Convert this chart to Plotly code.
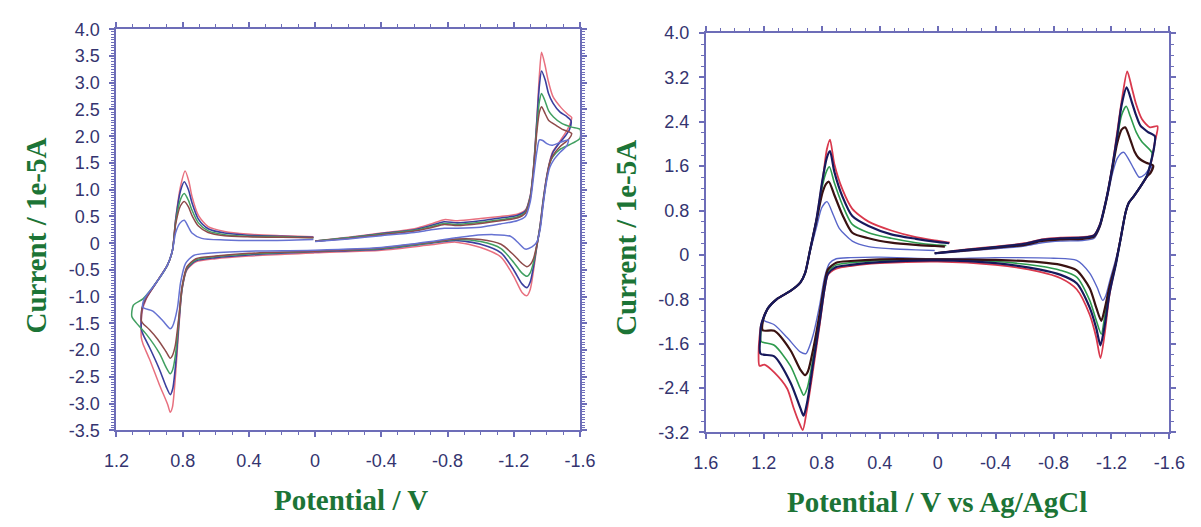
import plotly.graph_objects as go

# ---------------------------------------------------------------------------
# Cyclic voltammograms, (potential V, current 1e-5 A) read along each loop
# ---------------------------------------------------------------------------

left_red = [
    (0.00, 0.04), (-0.20, 0.11), (-0.40, 0.19), (-0.60, 0.27), (-0.70, 0.36), (-0.78, 0.44),
    (-0.86, 0.42), (-1.00, 0.46), (-1.12, 0.50), (-1.22, 0.54), (-1.27, 0.62), (-1.30, 0.90),
    (-1.32, 1.45), (-1.34, 2.35), (-1.355, 3.15), (-1.368, 3.57), (-1.388, 3.34), (-1.408, 3.04),
    (-1.437, 2.74), (-1.487, 2.53), (-1.526, 2.41), (-1.55, 2.35),
    (-1.536, 2.20), (-1.516, 2.08), (-1.477, 1.90), (-1.437, 1.72), (-1.418, 1.54), (-1.398, 1.24),
    (-1.378, 0.82), (-1.359, 0.34), (-1.339, -0.08), (-1.32, -0.50), (-1.30, -0.86), (-1.28, -0.98),
    (-1.25, -0.92), (-1.20, -0.62), (-1.123, -0.26), (-1.00, -0.08), (-0.85, 0.02), (-0.70, -0.03),
    (-0.40, -0.13), (0.00, -0.18), (0.40, -0.24), (0.60, -0.29), (0.72, -0.35), (0.774, -0.50),
    (0.803, -0.86), (0.823, -1.58), (0.842, -2.42), (0.862, -3.07), (0.875, -3.16), (0.89, -3.02),
    (0.94, -2.65), (1.00, -2.17), (1.04, -1.88), (1.05, -1.76),
    (1.045, -1.28), (1.02, -1.04), (0.96, -0.74), (0.892, -0.41), (0.862, -0.14), (0.842, 0.46),
    (0.813, 1.06), (0.785, 1.35), (0.762, 1.15), (0.744, 0.88), (0.705, 0.52), (0.646, 0.31),
    (0.547, 0.22), (0.41, 0.17), (0.20, 0.14), (0.01, 0.12),
]

left_navy = [
    (0.00, 0.04), (-0.20, 0.10), (-0.40, 0.18), (-0.60, 0.25), (-0.70, 0.33), (-0.78, 0.40),
    (-0.86, 0.38), (-1.00, 0.42), (-1.12, 0.47), (-1.22, 0.52), (-1.27, 0.60), (-1.30, 0.88),
    (-1.32, 1.42), (-1.34, 2.30), (-1.355, 2.95), (-1.368, 3.22), (-1.39, 3.05), (-1.41, 2.80),
    (-1.437, 2.62), (-1.48, 2.45), (-1.516, 2.38), (-1.546, 2.29),
    (-1.536, 2.12), (-1.51, 2.00), (-1.47, 1.85), (-1.437, 1.70), (-1.418, 1.52), (-1.398, 1.22),
    (-1.378, 0.80), (-1.359, 0.32), (-1.339, -0.06), (-1.32, -0.42), (-1.30, -0.72), (-1.28, -0.83),
    (-1.25, -0.76), (-1.20, -0.50), (-1.123, -0.18), (-1.00, -0.02), (-0.85, 0.05), (-0.70, 0.00),
    (-0.40, -0.11), (0.00, -0.16), (0.40, -0.22), (0.60, -0.27), (0.72, -0.33), (0.774, -0.48),
    (0.803, -0.84), (0.823, -1.50), (0.842, -2.25), (0.860, -2.72), (0.875, -2.83), (0.90, -2.68),
    (0.94, -2.36), (1.00, -1.95), (1.04, -1.70), (1.05, -1.60),
    (1.045, -1.22), (1.02, -1.02), (0.96, -0.74), (0.892, -0.41), (0.862, -0.14), (0.842, 0.44),
    (0.813, 0.98), (0.79, 1.15), (0.765, 1.00), (0.744, 0.76), (0.705, 0.45), (0.646, 0.27),
    (0.547, 0.19), (0.41, 0.15), (0.20, 0.13), (0.01, 0.11),
]

left_green = [
    (0.00, 0.04), (-0.20, 0.10), (-0.40, 0.17), (-0.60, 0.24), (-0.70, 0.31), (-0.78, 0.37),
    (-0.86, 0.35), (-1.00, 0.39), (-1.12, 0.44), (-1.22, 0.49), (-1.27, 0.58), (-1.30, 0.86),
    (-1.32, 1.40), (-1.34, 2.20), (-1.355, 2.65), (-1.368, 2.80), (-1.39, 2.65), (-1.41, 2.48),
    (-1.44, 2.36), (-1.49, 2.24), (-1.55, 2.17), (-1.60, 2.13),
    (-1.60, 1.96), (-1.536, 1.84), (-1.477, 1.75), (-1.437, 1.62), (-1.418, 1.50), (-1.398, 1.20),
    (-1.378, 0.78), (-1.359, 0.30), (-1.339, -0.05), (-1.32, -0.35), (-1.30, -0.55), (-1.28, -0.62),
    (-1.25, -0.56), (-1.20, -0.36), (-1.123, -0.10), (-1.00, 0.03), (-0.85, 0.07), (-0.70, 0.01),
    (-0.40, -0.10), (0.00, -0.15), (0.40, -0.20), (0.60, -0.25), (0.72, -0.31), (0.774, -0.46),
    (0.803, -0.82), (0.823, -1.42), (0.842, -2.05), (0.860, -2.36), (0.875, -2.44), (0.90, -2.32),
    (0.94, -2.06), (1.02, -1.70), (1.08, -1.49), (1.107, -1.37),
    (1.098, -1.16), (1.04, -1.04), (0.96, -0.74), (0.892, -0.41), (0.862, -0.14), (0.842, 0.40),
    (0.813, 0.82), (0.79, 0.93), (0.765, 0.80), (0.744, 0.62), (0.705, 0.38), (0.646, 0.23),
    (0.547, 0.16), (0.41, 0.13), (0.20, 0.12), (0.01, 0.10),
]

left_brown = [
    (0.00, 0.04), (-0.20, 0.09), (-0.40, 0.16), (-0.60, 0.23), (-0.70, 0.29), (-0.78, 0.35),
    (-0.86, 0.33), (-1.00, 0.37), (-1.12, 0.42), (-1.22, 0.47), (-1.27, 0.56), (-1.30, 0.84),
    (-1.32, 1.38), (-1.34, 2.10), (-1.355, 2.45), (-1.368, 2.55), (-1.39, 2.42), (-1.41, 2.30),
    (-1.457, 2.20), (-1.50, 2.12), (-1.536, 2.08), (-1.55, 2.05),
    (-1.536, 1.96), (-1.516, 1.90), (-1.477, 1.80), (-1.437, 1.64), (-1.418, 1.50), (-1.398, 1.20),
    (-1.378, 0.76), (-1.359, 0.28), (-1.339, -0.04), (-1.32, -0.28), (-1.30, -0.40), (-1.28, -0.44),
    (-1.25, -0.38), (-1.20, -0.22), (-1.123, -0.02), (-1.00, 0.07), (-0.85, 0.08), (-0.70, 0.02),
    (-0.40, -0.09), (0.00, -0.15), (0.40, -0.19), (0.60, -0.24), (0.72, -0.29), (0.774, -0.44),
    (0.803, -0.80), (0.823, -1.38), (0.845, -1.92), (0.862, -2.10), (0.875, -2.15), (0.90, -2.03),
    (0.95, -1.80), (1.00, -1.62), (1.04, -1.50), (1.05, -1.45),
    (1.045, -1.20), (1.02, -1.02), (0.96, -0.74), (0.892, -0.41), (0.862, -0.14), (0.842, 0.36),
    (0.813, 0.70), (0.79, 0.78), (0.765, 0.68), (0.744, 0.52), (0.705, 0.32), (0.646, 0.20),
    (0.547, 0.14), (0.41, 0.12), (0.20, 0.11), (0.01, 0.10),
]

left_blue = [
    (0.00, 0.03), (-0.20, 0.08), (-0.40, 0.14), (-0.60, 0.20), (-0.70, 0.25), (-0.78, 0.28),
    (-0.86, 0.28), (-1.00, 0.30), (-1.12, 0.36), (-1.22, 0.42), (-1.27, 0.50), (-1.30, 0.78),
    (-1.32, 1.25), (-1.34, 1.72), (-1.355, 1.93), (-1.375, 1.92), (-1.40, 1.86), (-1.43, 1.83),
    (-1.477, 1.88), (-1.53, 1.93),
    (-1.52, 1.82), (-1.48, 1.70), (-1.44, 1.55), (-1.418, 1.42), (-1.398, 1.15), (-1.378, 0.72),
    (-1.359, 0.25), (-1.339, 0.02), (-1.31, -0.07), (-1.27, -0.11), (-1.23, 0.00), (-1.18, 0.13),
    (-1.08, 0.16), (-0.95, 0.14), (-0.85, 0.10), (-0.70, 0.03), (-0.40, -0.08), (0.00, -0.13),
    (0.40, -0.15), (0.646, -0.19), (0.734, -0.23), (0.783, -0.38), (0.813, -0.74), (0.832, -1.22),
    (0.862, -1.56), (0.875, -1.60), (0.92, -1.45), (0.98, -1.27), (1.04, -1.20),
    (1.035, -1.06), (1.00, -0.90), (0.96, -0.74), (0.892, -0.41), (0.862, -0.14), (0.842, 0.20),
    (0.815, 0.38), (0.79, 0.43), (0.765, 0.30), (0.744, 0.19), (0.685, 0.09), (0.547, 0.06),
    (0.30, 0.05), (0.01, 0.07),
]

right_red = [
    (0.02, 0.03), (-0.20, 0.10), (-0.40, 0.15), (-0.60, 0.21), (-0.72, 0.28), (-0.85, 0.31),
    (-1.00, 0.32), (-1.08, 0.36), (-1.12, 0.55), (-1.15, 0.85), (-1.175, 1.15), (-1.208, 1.64),
    (-1.24, 2.22), (-1.275, 2.85), (-1.309, 3.31), (-1.34, 3.02), (-1.37, 2.72), (-1.41, 2.45),
    (-1.466, 2.30), (-1.518, 2.32),
    (-1.50, 2.04), (-1.477, 1.70), (-1.444, 1.41), (-1.40, 1.23), (-1.355, 1.06), (-1.32, 0.94),
    (-1.298, 0.77), (-1.264, 0.31), (-1.23, -0.15), (-1.186, -0.73), (-1.153, -1.43), (-1.124, -1.86),
    (-1.095, -1.49), (-1.05, -1.08), (-0.96, -0.62), (-0.85, -0.42), (-0.70, -0.30), (-0.40, -0.18),
    (0.00, -0.12), (0.40, -0.15), (0.60, -0.20), (0.70, -0.25), (0.757, -0.36), (0.78, -0.62),
    (0.814, -1.26), (0.859, -2.06), (0.904, -2.82), (0.931, -3.16), (0.96, -3.00), (0.994, -2.76),
    (1.039, -2.41), (1.128, -2.12), (1.196, -1.98), (1.23, -2.00),
    (1.236, -1.78), (1.23, -1.49), (1.218, -1.26), (1.173, -0.97), (1.106, -0.79), (1.016, -0.65),
    (0.948, -0.50), (0.915, -0.33), (0.881, 0.08), (0.836, 0.65), (0.791, 1.41), (0.765, 1.90),
    (0.743, 2.08), (0.713, 1.64), (0.657, 1.18), (0.589, 0.83), (0.477, 0.60), (0.32, 0.44),
    (0.15, 0.32), (0.02, 0.26), (-0.084, 0.22),
]

right_navy = [
    (0.02, 0.03), (-0.20, 0.09), (-0.40, 0.14), (-0.60, 0.20), (-0.72, 0.27), (-0.85, 0.30),
    (-1.00, 0.31), (-1.08, 0.35), (-1.12, 0.54), (-1.15, 0.84), (-1.175, 1.14), (-1.208, 1.62),
    (-1.24, 2.15), (-1.27, 2.70), (-1.305, 3.02), (-1.34, 2.76), (-1.37, 2.52), (-1.40, 2.33),
    (-1.45, 2.22), (-1.50, 2.14),
    (-1.495, 1.95), (-1.475, 1.70), (-1.444, 1.42), (-1.40, 1.23), (-1.355, 1.06), (-1.32, 0.94),
    (-1.298, 0.77), (-1.264, 0.30), (-1.23, -0.18), (-1.186, -0.70), (-1.153, -1.28), (-1.124, -1.63),
    (-1.095, -1.32), (-1.05, -0.95), (-0.96, -0.51), (-0.85, -0.36), (-0.70, -0.26), (-0.40, -0.15),
    (0.00, -0.10), (0.40, -0.13), (0.60, -0.18), (0.70, -0.22), (0.757, -0.34), (0.78, -0.60),
    (0.814, -1.20), (0.859, -1.95), (0.90, -2.65), (0.925, -2.90), (0.948, -2.76), (1.016, -2.30),
    (1.128, -1.83), (1.223, -1.78),
    (1.225, -1.50), (1.218, -1.26), (1.173, -0.97), (1.106, -0.79), (1.016, -0.65), (0.948, -0.50),
    (0.915, -0.33), (0.881, 0.08), (0.836, 0.65), (0.795, 1.35), (0.765, 1.75), (0.743, 1.87),
    (0.713, 1.50), (0.657, 1.05), (0.589, 0.70), (0.477, 0.52), (0.32, 0.37), (0.15, 0.29),
    (0.02, 0.24), (-0.08, 0.21),
]

right_green = [
    (0.02, 0.03), (-0.20, 0.09), (-0.40, 0.14), (-0.60, 0.19), (-0.72, 0.26), (-0.85, 0.29),
    (-1.00, 0.30), (-1.08, 0.34), (-1.12, 0.53), (-1.15, 0.83), (-1.175, 1.13), (-1.208, 1.60),
    (-1.24, 2.10), (-1.27, 2.52), (-1.302, 2.68), (-1.33, 2.50), (-1.37, 2.22), (-1.41, 2.04),
    (-1.48, 1.84),
    (-1.47, 1.65), (-1.444, 1.43), (-1.40, 1.23), (-1.355, 1.06), (-1.32, 0.94), (-1.298, 0.77),
    (-1.264, 0.30), (-1.23, -0.17), (-1.186, -0.64), (-1.153, -1.12), (-1.13, -1.43), (-1.095, -1.18),
    (-1.05, -0.82), (-0.96, -0.40), (-0.85, -0.28), (-0.70, -0.20), (-0.40, -0.12), (0.00, -0.09),
    (0.40, -0.10), (0.60, -0.14), (0.70, -0.18), (0.757, -0.30), (0.78, -0.55), (0.814, -1.10),
    (0.859, -1.85), (0.90, -2.40), (0.925, -2.53), (0.948, -2.41), (1.016, -2.00), (1.128, -1.63),
    (1.218, -1.56),
    (1.22, -1.40), (1.205, -1.18), (1.173, -0.97), (1.106, -0.79), (1.016, -0.65), (0.948, -0.50),
    (0.915, -0.33), (0.881, 0.08), (0.836, 0.62), (0.795, 1.25), (0.765, 1.52), (0.747, 1.59),
    (0.713, 1.30), (0.657, 0.90), (0.589, 0.55), (0.477, 0.40), (0.32, 0.30), (0.15, 0.22),
    (0.02, 0.18), (-0.06, 0.17),
]

right_brown = [
    (0.02, 0.03), (-0.20, 0.08), (-0.40, 0.13), (-0.60, 0.18), (-0.72, 0.25), (-0.85, 0.28),
    (-1.00, 0.29), (-1.08, 0.33), (-1.12, 0.52), (-1.15, 0.82), (-1.175, 1.12), (-1.208, 1.58),
    (-1.24, 2.02), (-1.27, 2.26), (-1.295, 2.30), (-1.33, 2.08), (-1.36, 1.86), (-1.387, 1.75),
    (-1.44, 1.66), (-1.488, 1.61),
    (-1.47, 1.48), (-1.444, 1.41), (-1.40, 1.23), (-1.355, 1.06), (-1.32, 0.94), (-1.298, 0.77),
    (-1.264, 0.30), (-1.23, -0.14), (-1.186, -0.58), (-1.153, -0.98), (-1.13, -1.19), (-1.095, -0.95),
    (-1.05, -0.60), (-0.96, -0.28), (-0.85, -0.18), (-0.70, -0.13), (-0.40, -0.09), (0.00, -0.08),
    (0.40, -0.08), (0.60, -0.11), (0.70, -0.14), (0.757, -0.26), (0.78, -0.50), (0.814, -1.05),
    (0.859, -1.70), (0.895, -2.10), (0.915, -2.17), (0.948, -2.07), (1.016, -1.72), (1.128, -1.37),
    (1.207, -1.36),
    (1.207, -1.20), (1.173, -0.97), (1.106, -0.79), (1.016, -0.65), (0.948, -0.50), (0.915, -0.33),
    (0.881, 0.08), (0.836, 0.62), (0.795, 1.12), (0.770, 1.28), (0.751, 1.32), (0.713, 1.08),
    (0.657, 0.72), (0.589, 0.40), (0.477, 0.30), (0.32, 0.22), (0.15, 0.18), (0.02, 0.16),
    (-0.05, 0.15),
]

right_blue = [
    (0.02, 0.02), (-0.20, 0.07), (-0.40, 0.11), (-0.60, 0.16), (-0.72, 0.22), (-0.85, 0.25),
    (-1.00, 0.26), (-1.08, 0.30), (-1.12, 0.50), (-1.15, 0.80), (-1.175, 1.08), (-1.208, 1.48),
    (-1.24, 1.74), (-1.27, 1.84), (-1.286, 1.85), (-1.32, 1.72), (-1.355, 1.55), (-1.392, 1.40),
    (-1.43, 1.45), (-1.48, 1.62),
    (-1.47, 1.50), (-1.444, 1.40), (-1.40, 1.23), (-1.355, 1.06), (-1.32, 0.94), (-1.298, 0.77),
    (-1.264, 0.28), (-1.23, -0.08), (-1.19, -0.45), (-1.16, -0.74), (-1.14, -0.82), (-1.10, -0.58),
    (-1.05, -0.33), (-0.96, -0.10), (-0.80, -0.06), (-0.40, -0.05), (0.00, -0.07), (0.40, -0.04),
    (0.60, -0.05), (0.70, -0.07), (0.746, -0.15), (0.78, -0.40), (0.814, -0.90), (0.86, -1.45),
    (0.895, -1.72), (0.908, -1.78), (0.948, -1.75), (1.039, -1.49), (1.128, -1.26), (1.207, -1.17),
    (1.19, -1.08), (1.173, -0.97), (1.106, -0.79), (1.016, -0.65), (0.948, -0.50), (0.915, -0.33),
    (0.881, 0.05), (0.836, 0.50), (0.80, 0.85), (0.764, 0.96), (0.72, 0.72), (0.679, 0.48),
    (0.589, 0.25), (0.477, 0.15), (0.32, 0.11), (0.15, 0.09), (0.02, 0.08),
]

# tick labels
left_x_labels = ["1.2", "0.8", "0.4", "0", "-0.4", "-0.8", "-1.2", "-1.6"]
left_y_labels = ["-3.5", "-3.0", "-2.5", "-2.0", "-1.5", "-1.0", "-0.5", "0",
                 "0.5", "1.0", "1.5", "2.0", "2.5", "3.0", "3.5", "4.0"]
right_x_labels = ["1.6", "1.2", "0.8", "0.4", "0", "-0.4", "-0.8", "-1.2", "-1.6"]
right_y_labels = ["-3.2", "-2.4", "-1.6", "-0.8", "0", "0.8", "1.6", "2.4", "3.2", "4.0"]

# ---------------------------------------------------------------------------
W, H = 1201, 527
AXIS = "#6d6db8"
TICKFONT = dict(family="Liberation Sans, Arial, sans-serif", size=18, color="#34346f")
TITLEFONT = dict(family="Liberation Serif, Times New Roman, serif", size=29,
                 color="#1c7436", weight="bold")

left_curves = [
    (left_red, "#e8707f", 1.5),
    (left_navy, "#3b3f9e", 1.6),
    (left_green, "#42a062", 1.5),
    (left_brown, "#8e4b4b", 1.5),
    (left_blue, "#6672d2", 1.5),
]
right_curves = [
    (right_red, "#d9394d", 1.8),
    (right_green, "#2e9b4e", 1.6),
    (right_blue, "#5966c9", 1.4),
    (right_brown, "#3a1212", 2.2),
    (right_navy, "#17195c", 2.2),
]

fig = go.Figure()


def add_loop(points, color, width, xa, ya):
    fig.add_trace(go.Scatter(
        x=[p[0] for p in points], y=[p[1] for p in points],
        mode="lines", xaxis=xa, yaxis=ya,
        line=dict(color=color, width=width, shape="spline", smoothing=0.7),
        showlegend=False, hoverinfo="skip",
    ))


for pts, col, w in left_curves:
    add_loop(pts, col, w, "x", "y")
for pts, col, w in right_curves:
    add_loop(pts, col, w, "x2", "y2")


def axis_style(labels, minor_step, standoff):
    return dict(
        tickmode="array",
        tickvals=[float(t) for t in labels],
        ticktext=labels,
        tickfont=TICKFONT,
        ticks="outside", ticklen=5, tickwidth=1.5, tickcolor=AXIS,
        ticklabelstandoff=standoff,
        minor=dict(tickmode="linear", tick0=0, dtick=minor_step, ticks="outside",
                   ticklen=3, tickwidth=1, tickcolor=AXIS, showgrid=False),
        showline=True, linecolor=AXIS, linewidth=2, mirror="ticks",
        showgrid=False, zeroline=False, fixedrange=True,
    )


def px_x(v):
    return v / W


def px_y(v):
    return 1 - v / H


fig.update_layout(
    width=W, height=H,
    margin=dict(l=0, r=0, t=0, b=0),
    paper_bgcolor="white", plot_bgcolor="white",
    xaxis=dict(axis_style(left_x_labels, 0.1, 8), domain=[px_x(106), px_x(581)],
               range=[1.2, -1.6], anchor="y"),
    yaxis=dict(axis_style(left_y_labels, 0.05, 6), domain=[px_y(437), px_y(20)],
               range=[-3.5, 4.0], anchor="x"),
    xaxis2=dict(axis_style(right_x_labels, 0.1, 8), domain=[px_x(710), px_x(1185)],
                range=[1.6, -1.6], anchor="y2"),
    yaxis2=dict(axis_style(right_y_labels, 0.2, 6), domain=[px_y(439), px_y(24)],
                range=[-3.2, 4.0], anchor="x2"),
)

titles = [
    ("Potential / V", 346, 509, 0),
    ("Potential / V vs Ag/AgCl", 947, 511, 0),
    ("Current / 1e-5A", 24, 234, -90),
    ("Current / 1e-5A", 628, 237, -90),
]
for text, cx, cy, ang in titles:
    fig.add_annotation(text=text, x=px_x(cx), y=px_y(cy), xref="paper", yref="paper",
                       xanchor="center", yanchor="middle", showarrow=False,
                       textangle=ang, font=TITLEFONT)

fig.write_html("out.html")
